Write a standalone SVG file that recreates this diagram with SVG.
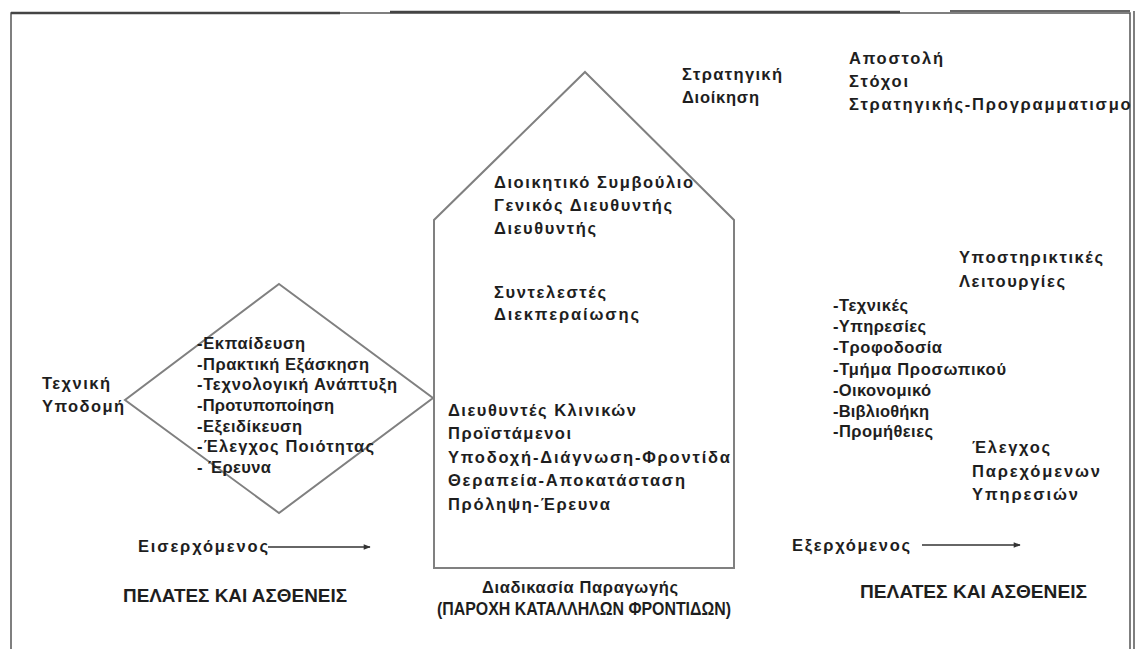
<svg xmlns="http://www.w3.org/2000/svg" width="1140" height="649" viewBox="0 0 1140 649">
<style>
.t{font-family:"Liberation Sans","DejaVu Sans",Arial,sans-serif;font-size:16.5px;font-weight:bold;fill:#1e1e1e}
.u{font-size:17.5px}
.s{fill:none;stroke:#808080;stroke-width:2}
.f{fill:none;stroke:#555;stroke-width:1.5}
.c{fill:none;stroke:#333;stroke-width:1.3}
</style>
<defs>
<marker id="ah" viewBox="0 0 10 10" refX="9" refY="5" markerWidth="8" markerHeight="7" orient="auto" markerUnits="userSpaceOnUse">
<path d="M0,1 L10,5 L0,9 Z" fill="#333"/>
</marker>
<clipPath id="clipR"><rect x="0" y="0" width="1131" height="649"/></clipPath>
</defs>
<rect width="1140" height="649" fill="#fff"/>
<g id="frame">
<path class="f" d="M11,649 V13 H1130 V649"/>
<path class="f" d="M1134,11 V649" stroke-width="1"/>
<path d="M11,13 H340 M390,12 H900" stroke="#444" stroke-width="2.5" fill="none"/>
<path d="M950,11 H1130" stroke="#666" stroke-width="2" fill="none"/>
</g>
<g id="house">
<polygon class="s" points="585,72 734,220 734,568 434,568 434,220"/>
<text class="t" x="494" y="188" textLength="199" lengthAdjust="spacing">Διοικητικό Συμβούλιο</text>
<text class="t" x="494" y="211" textLength="178" lengthAdjust="spacing">Γενικός Διευθυντής</text>
<text class="t" x="494" y="234" textLength="102" lengthAdjust="spacing">Διευθυντής</text>
<text class="t" x="494" y="298" textLength="112" lengthAdjust="spacing">Συντελεστές</text>
<text class="t" x="494" y="320" textLength="145" lengthAdjust="spacing">Διεκπεραίωσης</text>
<text class="t" x="448" y="416" textLength="188" lengthAdjust="spacing">Διευθυντές Κλινικών</text>
<text class="t" x="448" y="439" textLength="123" lengthAdjust="spacing">Προϊστάμενοι</text>
<text class="t" x="448" y="463" textLength="282" lengthAdjust="spacing">Υποδοχή-Διάγνωση-Φροντίδα</text>
<text class="t" x="448" y="486" textLength="237" lengthAdjust="spacing">Θεραπεία-Αποκατάσταση</text>
<text class="t" x="448" y="510" textLength="162" lengthAdjust="spacing">Πρόληψη-Έρευνα</text>
</g>
<g id="diamond">
<polygon class="s" points="279,284 433,398 279,513 125,400"/>
<text class="t" x="197" y="349" textLength="108" lengthAdjust="spacing">-Εκπαίδευση</text>
<text class="t" x="197" y="370" textLength="172" lengthAdjust="spacing">-Πρακτική Εξάσκηση</text>
<text class="t" x="197" y="390" textLength="200" lengthAdjust="spacing">-Τεχνολογική Ανάπτυξη</text>
<text class="t" x="197" y="411" textLength="137" lengthAdjust="spacing">-Προτυποποίηση</text>
<text class="t" x="197" y="432" textLength="105" lengthAdjust="spacing">-Εξειδίκευση</text>
<text class="t" x="197" y="452" textLength="177" lengthAdjust="spacing">-Έλεγχος Ποιότητας</text>
<text class="t" x="197" y="473" textLength="74" lengthAdjust="spacing">- Έρευνα</text>
</g>
<g id="tech-infra">
<text class="t" x="42" y="389" textLength="68" lengthAdjust="spacing">Τεχνική</text>
<text class="t" x="42" y="412" textLength="82" lengthAdjust="spacing">Υποδομή</text>
</g>
<g id="strategic">
<text class="t" x="682" y="80" textLength="100" lengthAdjust="spacing">Στρατηγική</text>
<text class="t" x="682" y="103" textLength="77" lengthAdjust="spacing">Διοίκηση</text>
</g>
<g id="mission">
<text class="t" x="849" y="64" textLength="94" lengthAdjust="spacing">Αποστολή</text>
<text class="t" x="849" y="87" textLength="59" lengthAdjust="spacing">Στόχοι</text>
<text class="t" x="849" y="110" textLength="293" lengthAdjust="spacing" clip-path="url(#clipR)">Στρατηγικής-Προγραμματισμού</text>
</g>
<g id="support">
<text class="t" x="959" y="263" textLength="144" lengthAdjust="spacing">Υποστηρικτικές</text>
<text class="t" x="959" y="287" textLength="106" lengthAdjust="spacing">Λειτουργίες</text>
</g>
<g id="support-list">
<text class="t" x="833" y="311" textLength="75" lengthAdjust="spacing">-Τεχνικές</text>
<text class="t" x="833" y="332" textLength="93" lengthAdjust="spacing">-Υπηρεσίες</text>
<text class="t" x="833" y="353" textLength="109" lengthAdjust="spacing">-Τροφοδοσία</text>
<text class="t" x="833" y="375" textLength="173" lengthAdjust="spacing">-Τμήμα Προσωπικού</text>
<text class="t" x="833" y="396" textLength="98" lengthAdjust="spacing">-Οικονομικό</text>
<text class="t" x="833" y="417" textLength="96" lengthAdjust="spacing">-Βιβλιοθήκη</text>
<text class="t" x="833" y="437" textLength="100" lengthAdjust="spacing">-Προμήθειες</text>
</g>
<g id="quality">
<text class="t" x="972" y="453" textLength="78" lengthAdjust="spacing">Έλεγχος</text>
<text class="t" x="972" y="477" textLength="128" lengthAdjust="spacing">Παρεχόμενων</text>
<text class="t" x="972" y="500" textLength="106" lengthAdjust="spacing">Υπηρεσιών</text>
</g>
<g id="incoming">
<text class="t" x="138" y="552" textLength="130" lengthAdjust="spacing">Εισερχόμενος</text>
</g>
<g id="outgoing">
<text class="t" x="792" y="551" textLength="118" lengthAdjust="spacing">Εξερχόμενος</text>
</g>
<g id="clients-left">
<text class="t u" x="123" y="602" textLength="224" lengthAdjust="spacingAndGlyphs">ΠΕΛΑΤΕΣ ΚΑΙ ΑΣΘΕΝΕΙΣ</text>
</g>
<g id="process">
<text class="t" x="482" y="593" textLength="196" lengthAdjust="spacing">Διαδικασία Παραγωγής</text>
<text class="t u" x="437" y="615" textLength="294" lengthAdjust="spacingAndGlyphs">(ΠΑΡΟΧΗ ΚΑΤΑΛΛΗΛΩΝ ΦΡΟΝΤΙΔΩΝ)</text>
</g>
<g id="clients-right">
<text class="t u" x="860" y="598" textLength="227" lengthAdjust="spacingAndGlyphs">ΠΕΛΑΤΕΣ ΚΑΙ ΑΣΘΕΝΕΙΣ</text>
</g>
<g id="connectors">
<line class="c" x1="268" y1="547" x2="370" y2="547" marker-end="url(#ah)"/>
<line class="c" x1="922" y1="545" x2="1020" y2="545" marker-end="url(#ah)"/>
</g>
</svg>
